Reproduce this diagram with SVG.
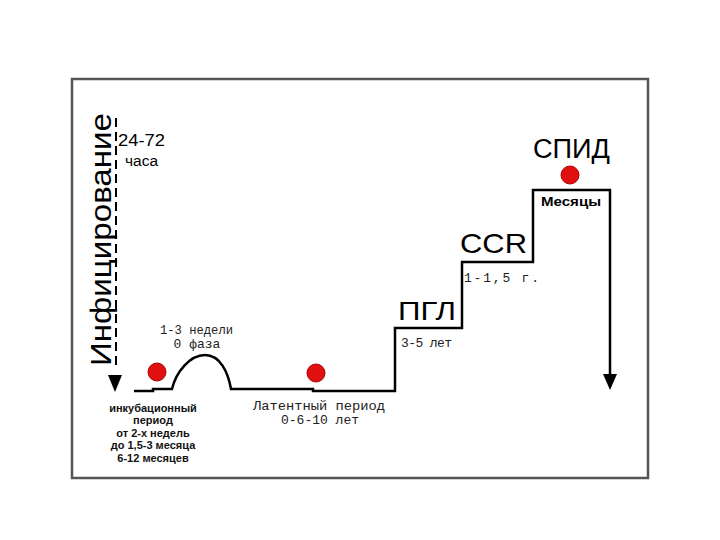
<svg xmlns="http://www.w3.org/2000/svg" width="720" height="540" viewBox="0 0 720 540">
<defs>
<style>
.ln{fill:none;stroke:#000;stroke-width:2.5;stroke-linejoin:miter}
.dot{fill:#e01010;stroke:#a00;stroke-width:1}
.big{font-family:"Liberation Sans",Arial,sans-serif;fill:#000}
.mono{font-family:"Liberation Mono","DejaVu Sans Mono",monospace;fill:#222;font-size:13px}
.bold{font-family:"Liberation Sans",Arial,sans-serif;font-weight:bold;fill:#111;font-size:11px;text-anchor:middle}
</style>
</defs>
<rect width="720" height="540" fill="#fff"/>
<rect x="72" y="79" width="576" height="399" fill="none" stroke="#555" stroke-width="2.5"/>

<g id="connectors">
<line x1="116" y1="118" x2="116" y2="370" stroke="#000" stroke-width="2" stroke-dasharray="9 5"/>
<path d="M108,375 L122,375 L115,392 z" fill="#000"/>
<path class="ln" d="M134,391 L153,391 L153,389 L172,389 C176,372 190,355 205,355 C220,355 228,372 231,389 L313,389 L313,391 L395,391 L395,328 L462,328 L462,262 L533,262 L533,190 L610,190 L610,376"/>
<path d="M603,374 L617,374 L610,390 z" fill="#000"/>
</g>

<g id="infection">
<text class="big" transform="translate(111,366) rotate(-90)" font-size="30" textLength="253" lengthAdjust="spacingAndGlyphs">Инфицирование</text>
<text class="big" x="118" y="146" font-size="16" fill="#222" textLength="47" lengthAdjust="spacingAndGlyphs">24-72</text>
<text class="big" x="125" y="166" font-size="14" fill="#222" textLength="33" lengthAdjust="spacingAndGlyphs">часа</text>
</g>

<g id="incubation">
<circle class="dot" cx="157" cy="372" r="9"/>
<text class="bold" x="153" y="412">инкубационный</text>
<text class="bold" x="153" y="424">период</text>
<text class="bold" x="153" y="437">от 2-х недель</text>
<text class="bold" x="153" y="449">до 1,5-3 месяца</text>
<text class="bold" x="153" y="462">6-12 месяцев</text>
</g>

<g id="phase0">
<text class="mono" x="160" y="334" font-size="11" textLength="73" lengthAdjust="spacingAndGlyphs">1-3 недели</text>
<text class="mono" x="197" y="348" text-anchor="middle" font-size="11">0 фаза</text>
</g>

<g id="latent">
<circle class="dot" cx="316" cy="373" r="9"/>
<text class="mono" x="253" y="410" textLength="132" lengthAdjust="spacingAndGlyphs">Латентный период</text>
<text class="mono" x="320" y="424" text-anchor="middle">0-6-10 лет</text>
</g>

<g id="pgl">
<text class="big" x="398" y="320" font-size="25" textLength="58" lengthAdjust="spacingAndGlyphs">ПГЛ</text>
<text class="mono" x="401" y="347" font-size="12" textLength="51" lengthAdjust="spacing">3-5 лет</text>
</g>

<g id="ccr">
<text class="big" x="460" y="253" font-size="28" textLength="67" lengthAdjust="spacingAndGlyphs">CCR</text>
<text class="mono" x="464" y="282" font-size="12" textLength="75" lengthAdjust="spacing">1-1,5 г.</text>
</g>

<g id="aids">
<text class="big" x="533" y="158" font-size="27" textLength="77" lengthAdjust="spacingAndGlyphs">СПИД</text>
<circle class="dot" cx="570" cy="175" r="9"/>
<text class="big" x="541" y="206" font-size="12" font-weight="bold" fill="#222" textLength="60" lengthAdjust="spacingAndGlyphs">Месяцы</text>
</g>
</svg>
